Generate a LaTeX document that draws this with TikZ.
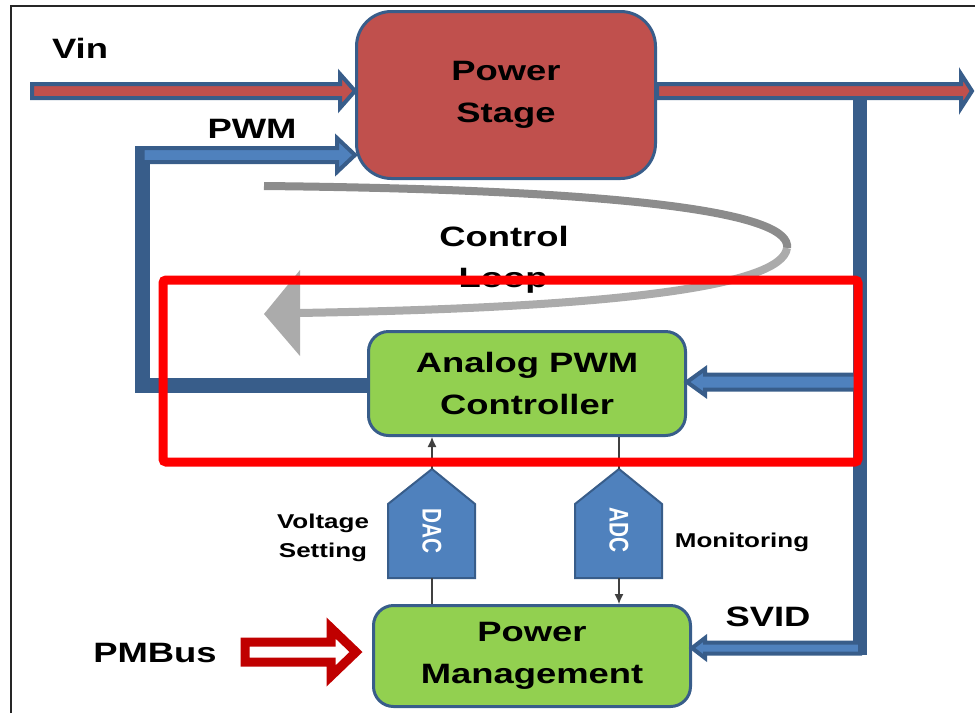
\documentclass[tikz,border=0pt]{standalone}
\usepackage{fontspec}
\setmainfont{Liberation Sans}[FakeStretch=1.3]
\newfontfamily\narrowsans[FakeStretch=0.77]{Liberation Sans}
\usetikzlibrary{calc,arrows.meta}
\definecolor{dblue}{HTML}{385D8A}
\definecolor{lblue}{HTML}{4F81BD}
\definecolor{psred}{HTML}{C0504D}
\definecolor{lgreen}{HTML}{92D050}
\definecolor{pmred}{HTML}{C00000}
\definecolor{loopdark}{HTML}{8C8C8C}
\definecolor{looplight}{HTML}{ABABAB}
\definecolor{thinline}{HTML}{404040}
% horizontal block arrow: #1 start, #2 tip, #3 half band, #4 half head, #5 head length, #6 style
\newcommand{\blockarrow}[6]{%
  \draw[#6] let \p1=(#1), \p2=(#2), \n1={sign(\x2-\x1)} in
    (\x1,\y2+#3) -- (\x2-\n1*#5,\y2+#3) -- (\x2-\n1*#5,\y2+#4) -- (\x2,\y2)
    -- (\x2-\n1*#5,\y2-#4) -- (\x2-\n1*#5,\y2-#3) -- (\x1,\y2-#3) -- cycle;}
\begin{document}
\begin{tikzpicture}[x=1pt,y=-1pt,
  box/.style={draw=dblue, line width=3, align=center, inner sep=0,
    font=\fontsize{28}{42}\selectfont\bfseries},
  lbl/.style={inner sep=0, anchor=base, font=\fontsize{28}{34}\selectfont\bfseries},
  smalllbl/.style={inner sep=0, align=center, font=\fontsize{20}{29}\selectfont\bfseries},
  redarrow/.style={fill=psred, draw=dblue, line width=4},
  bluearrow/.style={fill=lblue, draw=dblue, line width=4},
  bar/.style={line width=15, draw=dblue},
  pent/.style={fill=lblue, draw=dblue, line width=2},
  convtext/.style={rotate=-90, inner sep=0, text=white, font=\narrowsans\fontsize{27}{30}\selectfont\bfseries},
  thin/.style={draw=thinline, line width=1.2},
  tip/.style={-{Latex[length=10pt,width=9pt]}}
]
\useasboundingbox (0,0) rectangle (975,713);
% frame
\draw[line width=1.5, black!85] (11,713) -- (11,6) -- (975,6);

% control loop
\draw[line width=8, loopdark] (264,186) .. controls (650,190) and (792,215) .. (787,248);
\draw[line width=8, looplight] (787,248) .. controls (782,288) and (600,308) .. (298,313);
\fill[looplight] (264,314) -- (300,270) -- (300,356) -- cycle;
\node[lbl] (ctl) at (504,246) {Control};
\node[lbl] (loop) at (503,287) {Loop};

% main boxes
\node[box, fill=psred, minimum width=299, minimum height=167, rounded corners=35] (ps) at (506,95) {Power\\Stage};
\node[box, fill=lgreen, minimum width=317, minimum height=104, rounded corners=20] (apc) at (527,383.5) {Analog PWM\\Controller};
\node[box, fill=lgreen, minimum width=317, minimum height=101, rounded corners=20] (pm) at (532,656) {Power\\Management};

% power path
\coordinate (vinS) at (32,91);
\blockarrow{vinS}{vinS -| ps.west}{7}{17}{15}{redarrow}
\coordinate (voutE) at (972,91);
\blockarrow{ps.east |- voutE}{voutE}{7}{17}{11}{redarrow}
\node[lbl] (vin) at (80,58) {Vin};

% PWM feedback (left)
\coordinate (lb) at (142.5,385);
\coordinate (pwmTop) at (142.5,146);
\draw[bar] (apc.west |- lb) -- (lb) -- (pwmTop);
\coordinate (pwmC) at (142.5,155);
\blockarrow{pwmC}{pwmC -| ps.west}{7}{17}{18}{bluearrow}
\node[lbl] (pwm) at (252,138) {PWM};

% right bus
\coordinate (rbTop) at (860,99);
\coordinate (rbBot) at (860,655);
\draw[bar, line width=14] (rbTop) -- (rbBot);
\coordinate (ctrlIn) at (860,382);
\blockarrow{ctrlIn}{ctrlIn -| apc.east}{7.5}{13}{18}{bluearrow}
\coordinate (svidIn) at (860,648);
\blockarrow{svidIn}{svidIn -| pm.east}{5.5}{10}{13}{bluearrow}
\node[lbl] (svid) at (768,626) {SVID};

% PMBus
\coordinate (pmbS) at (245,652);
\coordinate (pmbT) at (356,652);
\blockarrow{pmbS}{pmbT}{10}{24}{25}{fill=white, draw=pmred, line width=9}
\node[lbl] (pmbus) at (155,662) {PMBus};

% converters
\coordinate (dacTop) at (432,469);
\coordinate (dacBot) at (432,578);
\coordinate (adcTop) at (619,469);
\coordinate (adcBot) at (619,578);
\draw[pent] (388,578) -- (388,504) -- (dacTop) -- (475,504) -- (475,578) -- cycle;
\draw[pent] (575,578) -- (575,504) -- (adcTop) -- (662,504) -- (662,578) -- cycle;
\node[convtext] (dac) at (432,531) {DAC};
\node[convtext] (adc) at (619,530) {ADC};
\draw[thin, tip] (dacTop) -- (dacTop |- apc.south);
\draw[thin] (dacBot) -- (dacBot |- pm.north);
\draw[thin] (adcTop) -- (adcTop |- apc.south);
\draw[thin, tip] (adcBot) -- (adcBot |- pm.north);
\node[smalllbl] (vset) at (323,538) {Voltage\\Setting};
\node[smalllbl, anchor=base] (mon) at (742,547) {Monitoring};

% highlight
\node[draw=red, line width=9, minimum width=695, minimum height=182, inner sep=0, rounded corners=3] (hl) at (510.5,371) {};
\end{tikzpicture}
\end{document}
